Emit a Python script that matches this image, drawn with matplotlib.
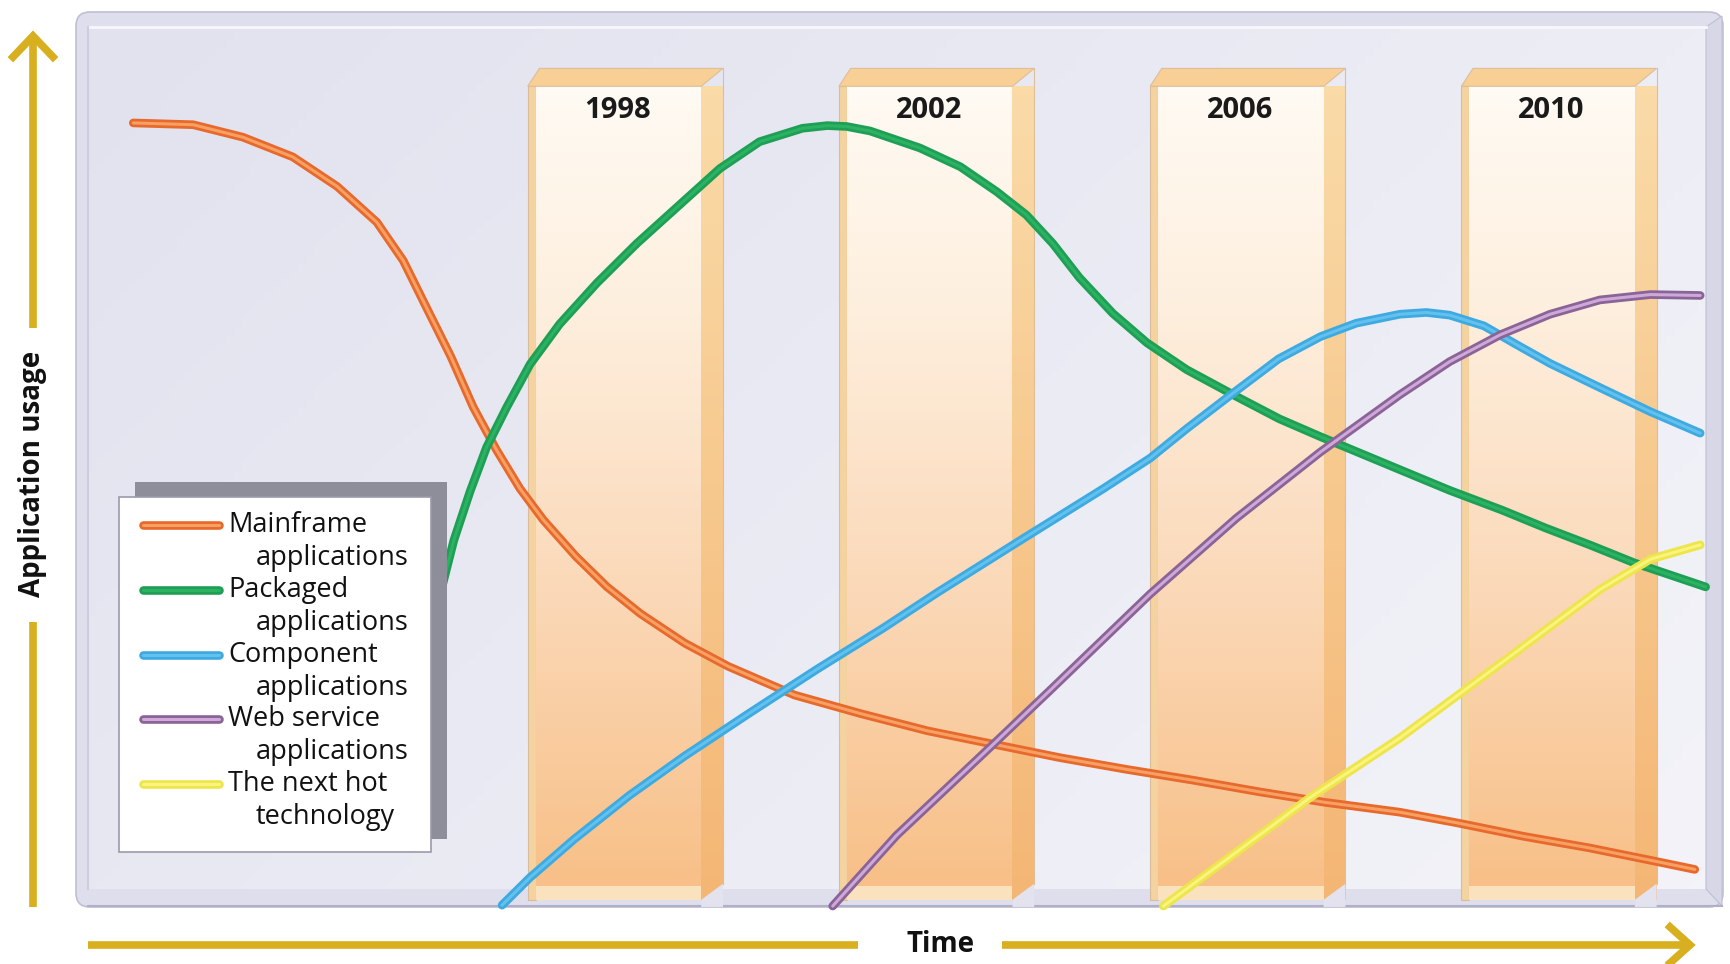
import numpy as np
import matplotlib.pyplot as plt
from matplotlib.patches import Rectangle, FancyBboxPatch, Polygon
from matplotlib.colors import LinearSegmentedColormap

plt.rcParams['font.family'] = ['Open Sans', 'DejaVu Sans']

# years marked by the pillars
years = [1998, 2002, 2006, 2010]

# curves: x = year, y = application usage (0-100)
mainframe_x = [1991.68, 1992.45, 1993.09, 1993.73, 1994.30, 1994.81, 1995.15, 1995.44,
               1995.76, 1996.05, 1996.35, 1996.65, 1996.95, 1997.37, 1997.77, 1998.20,
               1998.77, 1999.33, 2000.18, 2001.04, 2001.89, 2002.74, 2003.59, 2004.44,
               2005.29, 2006.14, 2007.00, 2007.96, 2008.70, 2009.55, 2010.40, 2011.25,
               2011.75]
mainframe_y = [87.7, 87.5, 86.1, 83.9, 80.6, 76.6, 72.3, 67.2,
               61.6, 55.9, 51.1, 46.8, 43.3, 39.2, 35.8, 32.8,
               29.5, 26.9, 23.7, 21.6, 19.7, 18.2, 16.7, 15.4,
               14.2, 12.9, 11.7, 10.6, 9.4, 7.9, 6.6, 5.1,
               4.2]

packaged_x = [1995.60, 1995.66, 1995.80, 1996.01, 1996.22, 1996.48, 1996.78, 1997.16,
              1997.64, 1998.15, 1998.71, 1999.22, 1999.73, 2000.28, 2000.60, 2000.85,
              2001.15, 2001.79, 2002.31, 2002.78, 2003.16, 2003.50, 2003.84, 2004.27,
              2004.71, 2005.22, 2005.86, 2006.41, 2006.94, 2007.88, 2008.60, 2009.27,
              2009.83, 2010.40, 2010.97, 2011.89]
packaged_y = [33.5, 36.2, 41.0, 46.5, 51.4, 55.9, 60.7, 65.2,
              69.8, 74.2, 78.6, 82.6, 85.6, 87.1, 87.4, 87.3,
              86.8, 84.9, 82.8, 80.0, 77.4, 74.2, 70.4, 66.4,
              63.1, 60.1, 57.1, 54.6, 52.6, 49.2, 46.6, 44.4,
              42.4, 40.5, 38.5, 35.8]

component_x = [1996.42, 1996.78, 1997.35, 1998.06, 1998.77, 1999.62, 2000.47, 2001.32,
               2002.02, 2003.08, 2004.15, 2004.75, 2005.22, 2005.82, 2006.40, 2006.94,
               2007.40, 2007.96, 2008.30, 2008.60, 2009.04, 2009.46, 2009.89, 2010.53,
               2011.18, 2011.82]
component_y = [0.2, 3.3, 7.6, 12.5, 16.9, 21.8, 26.6, 31.2,
               35.2, 41.0, 46.8, 50.2, 53.5, 57.5, 61.3, 63.8,
               65.3, 66.3, 66.5, 66.2, 65.0, 62.9, 60.8, 58.1,
               55.4, 53.0]

webservice_x = [2000.67, 2001.49, 2002.71, 2003.46, 2004.75, 2005.86, 2006.94, 2007.96,
                2008.60, 2009.25, 2009.89, 2010.53, 2011.18, 2011.82]
webservice_y = [0.1, 8.0, 18.0, 24.2, 35.0, 43.5, 50.9, 57.3,
                61.0, 64.0, 66.3, 67.9, 68.5, 68.4]

nexthot_x = [2004.92, 2006.43, 2006.80, 2007.96, 2009.25, 2010.53, 2011.18, 2011.82]
nexthot_y = [0.1, 9.8, 12.2, 18.9, 27.2, 35.5, 38.9, 40.5]

legend_first = ["Mainframe", "Packaged", "Component", "Web service", "The next hot"]
legend_second = ["applications", "applications", "applications", "applications", "technology"]

# outer / inner colour of each tube-like line
outer_cols = ['#E8692C', '#1E9F55', '#3EAAE0', '#8A6496', '#EDE54A']
inner_cols = ['#F6A063', '#2BB363', '#62C1EE', '#CFA8DA', '#F8F47E']

series = [(mainframe_x, mainframe_y), (packaged_x, packaged_y),
          (component_x, component_y), (webservice_x, webservice_y),
          (nexthot_x, nexthot_y)]

W, H = 1731, 964
fig = plt.figure(figsize=(W / 100, H / 100), dpi=100)

# background layer in pixel coordinates
bg = fig.add_axes([0, 0, 1, 1], zorder=0)
bg.set_xlim(0, W)
bg.set_ylim(H, 0)
bg.axis('off')

# panel with a soft lavender gradient
bg.add_patch(FancyBboxPatch((76, 12), 1647, 895, boxstyle="round,pad=0,rounding_size=14",
                            fc='#DEDEEC', ec='#BFBFD3', lw=1.2, zorder=1))
gx = np.linspace(0, 1, 200)
gy = np.linspace(0, 1, 120)
grad = 0.65 * gx[None, :] + 0.35 * gy[:, None]
panel_cmap = LinearSegmentedColormap.from_list('panel', ['#E2E2EF', '#F3F3F9'])
bg.imshow(grad, extent=(88, 1706, 889, 27), cmap=panel_cmap, aspect='auto', zorder=2)
bg.add_patch(Rectangle((88, 889), 1618, 17, fc='#DEDEEC', ec='none', zorder=2))
bg.plot([88, 1722], [906, 906], color='#AFAFC6', lw=1.5, zorder=3)
bg.add_patch(Polygon([[1706, 27], [1722, 16], [1722, 906], [1706, 889]],
                     fc='#D7D7E8', ec='#BFBFD3', lw=0.8, zorder=2))
bg.plot([88, 1706], [27, 27], color='#F7F7FB', lw=2, zorder=3)
bg.plot([88, 88], [27, 889], color='#CDCDDF', lw=1.5, zorder=3)
bg.set_xlim(0, W)
bg.set_ylim(H, 0)

# gold axis arrows
gold = '#D7AF1F'
bg.plot([33, 33], [907, 622], color=gold, lw=5.5, solid_capstyle='butt', zorder=3)
bg.plot([33, 33], [328, 40], color=gold, lw=5.5, solid_capstyle='butt', zorder=3)
bg.plot([13, 33, 53], [57, 36, 57], color=gold, lw=5.5, solid_joinstyle='miter', zorder=3)
bg.text(33, 474, 'Application usage', rotation=90, ha='center', va='center',
        fontsize=20, fontweight='bold', color='#111111')

bg.plot([88, 858], [945, 945], color=gold, lw=5.5, solid_capstyle='butt', zorder=3)
bg.plot([1002, 1684], [945, 945], color=gold, lw=5.5, solid_capstyle='butt', zorder=3)
bg.plot([1670, 1690, 1670], [927, 945, 963], color=gold, lw=5.5, solid_joinstyle='miter', zorder=3)
bg.text(941, 945, 'Time', ha='center', va='center', fontsize=20, fontweight='bold', color='#111111')

# data layer: x in years, y in usage
ax = fig.add_axes([0, 0, 1, 1], zorder=1)
ax.patch.set_alpha(0)
ax.axis('off')
x0, x1 = 1989.967, 2012.216
y0, y1 = -6.38, 101.45

face_cmap = LinearSegmentedColormap.from_list(
    'face', [(0, '#FFFAF3'), (0.25, '#FEF0E0'), (0.6, '#FBDABB'), (1, '#F8BF86')])
side_cmap = LinearSegmentedColormap.from_list('side', ['#FADBA8', '#F4B674'])
col = np.linspace(0, 1, 100)[:, None]

for c in years:
    # left rim
    ax.add_patch(Rectangle((c - 1.25, 0.8), 0.1, 91.0, fc='#F5D3A0', ec='#D8BC9C', lw=0.8, zorder=1))
    # front face
    ax.imshow(col, extent=(c - 1.15, c + 0.98, 0.8, 91.8), cmap=face_cmap,
              aspect='auto', origin='upper', zorder=1)
    # right side face
    ax.imshow(col, extent=(c + 0.98, c + 1.26, 0.8, 91.8), cmap=side_cmap,
              aspect='auto', origin='upper', zorder=1)
    ax.add_patch(Polygon([[c + 0.98, 0.8], [c + 1.26, 2.6], [c + 1.26, 0.0], [c + 0.98, 0.0]],
                         fc='#E3E3EF', ec='none', zorder=1))
    # top cap
    ax.add_patch(Polygon([[c - 1.25, 91.8], [c - 1.1, 93.8], [c + 1.26, 93.8], [c + 0.98, 91.8]],
                         fc='#F8CF95', ec='#DDBE98', lw=0.8, zorder=1))
    # base lip
    ax.add_patch(Rectangle((c - 1.15, 0.8), 2.13, 1.6, fc='#FBE2BE', ec='none', zorder=1))
    ax.plot([c + 1.26, c + 1.26], [2.6, 93.8], color='#DDBE98', lw=0.8, zorder=1)
    ax.text(c - 0.09, 89.1, str(c), ha='center', va='center', fontsize=21,
            fontweight='bold', color='#1A1A1A', zorder=2)

for (xs, ys), oc, ic in zip(series, outer_cols, inner_cols):
    ax.plot(xs, ys, color=oc, lw=6.2, solid_capstyle='round', solid_joinstyle='round', zorder=4)
    ax.plot(xs, ys, color=ic, lw=2.2, solid_capstyle='round', solid_joinstyle='round', zorder=4)

ax.set_xlim(x0, x1)
ax.set_ylim(y0, y1)

# legend box drawn on top of the lines, in pixel coordinates
t = bg.transData
ax.add_patch(Rectangle((135, 482), 312, 357, fc='#8E8E9B', ec='none', transform=t, zorder=6))
ax.add_patch(Rectangle((119, 497), 312, 355, fc='white', ec='#9A9AAA', lw=1.2, transform=t, zorder=7))
for i in range(len(legend_first)):
    yy = 525 + i * 64.8
    ax.plot([143, 219], [yy, yy], color=outer_cols[i], lw=6.2, solid_capstyle='round',
            transform=t, zorder=8)
    ax.plot([143, 219], [yy, yy], color=inner_cols[i], lw=2.2, solid_capstyle='round',
            transform=t, zorder=8)
    ax.text(228, yy, legend_first[i], ha='left', va='center', fontsize=19.5,
            color='#111111', transform=t, zorder=9)
    ax.text(256, yy + 33, legend_second[i], ha='left', va='center', fontsize=19.5,
            color='#111111', transform=t, zorder=9)

fig.savefig('out.png', dpi=100)
